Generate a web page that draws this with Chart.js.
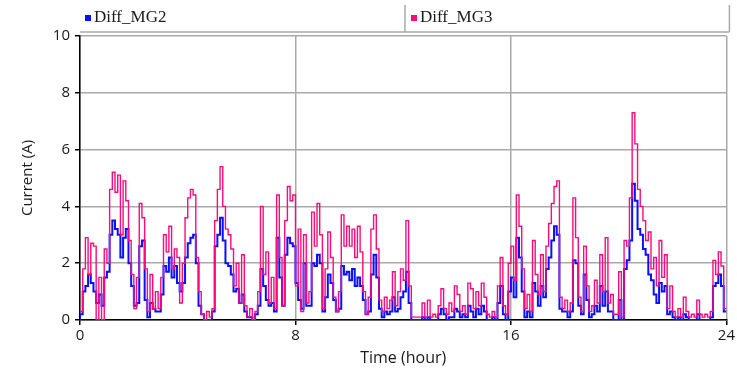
<!DOCTYPE html>
<html>
<head>
<meta charset="utf-8">
<script src="https://cdn.jsdelivr.net/npm/chart.js@4.4.1/dist/chart.umd.min.js"></script>
<style>
  html, body { margin: 0; padding: 0; background: #fff; }
  #chart { display: block; }
</style>
</head>
<body>
<canvas id="chart" width="737" height="376"></canvas>
<script>
'use strict';

/* ── Data: current samples every 0.1 h, from 0 to 24 h ───── */

const SERIES_NAMES = ['Diff_MG2', 'Diff_MG3'];

const DIFF_MG2 = [
  0.0, 0.2, 1.0, 1.2, 1.6, 1.3, 1.0, 0.6, 0.9, 0.5,
  1.5, 1.7, 3.0, 3.5, 3.2, 3.0, 2.2, 2.9, 3.2, 2.0,
  1.2, 0.5, 0.6, 2.6, 2.8, 0.7, 0.1, 0.6, 0.4, 0.3,
  0.3, 0.9, 1.9, 1.7, 2.2, 1.5, 1.9, 1.3, 1.0, 1.3,
  2.2, 2.7, 2.9, 3.0, 2.0, 0.5, 0.2, 0.0, 0.0, 0.0,
  0.3, 2.6, 3.0, 3.6, 2.8, 2.0, 1.9, 1.6, 1.0, 1.1,
  0.6, 0.9, 0.3, 0.1, 0.1, 0.0, 0.2, 0.5, 1.8, 1.2,
  0.7, 0.5, 0.6, 0.3, 2.9, 1.5, 0.5, 2.3, 2.9, 2.7,
  2.6, 1.3, 0.7, 0.4, 2.0, 0.5, 0.5, 2.0, 1.9, 2.3,
  2.0, 0.3, 0.8, 1.6, 1.3, 0.7, 0.3, 0.4, 1.9, 1.6,
  1.7, 1.4, 1.8, 1.2, 1.5, 1.2, 0.7, 0.2, 0.3, 1.6,
  2.3, 1.5, 0.4, 0.1, 0.3, 0.2, 0.3, 0.8, 0.3, 0.4,
  0.8, 1.0, 1.7, 0.6, 0.0, 0.0, 0.0, 0.0, 0.1, 0.0,
  0.1, 0.0, 0.0, 0.0, 0.2, 0.4, 0.2, 0.0, 0.1, 0.1,
  0.4, 0.3, 0.1, 0.2, 0.1, 0.5, 0.3, 0.1, 0.4, 0.2,
  0.5, 0.3, 0.0, 0.0, 0.1, 0.0, 0.6, 1.2, 0.2, 0.0,
  1.0, 1.5, 0.8, 2.9, 2.2, 1.0, 0.1, 0.3, 0.1, 1.3,
  1.0, 0.5, 1.2, 0.8, 1.8, 2.2, 2.8, 3.3, 3.0, 0.4,
  0.3, 0.3, 0.1, 0.3, 2.1, 2.0, 0.5, 0.2, 1.6, 0.7,
  0.1, 0.2, 0.5, 0.3, 1.2, 0.5, 1.0, 0.3, 0.3, 0.0,
  0.0, 0.7, 0.0, 1.8, 2.1, 2.8, 4.8, 4.2, 3.2, 3.0,
  2.5, 2.3, 1.6, 1.4, 0.9, 0.6, 1.3, 1.0, 1.2, 0.2,
  0.3, 0.1, 0.0, 0.1, 0.0, 0.2, 0.1, 0.0, 0.0, 0.0,
  0.2, 0.0, 0.0, 0.0, 0.0, 0.1, 1.2, 1.3, 1.6, 1.2,
  0.3,
];

const DIFF_MG3 = [
  0.3, 0.3, 1.8, 2.9, 1.6, 2.7, 2.6, 0.0, 1.5, 0.0,
  2.5, 2.0, 4.6, 5.2, 4.5, 5.1, 3.0, 4.9, 4.2, 2.8,
  1.6, 0.4, 1.5, 4.1, 3.6, 1.8, 0.3, 1.6, 0.4, 1.0,
  0.4, 1.5, 3.0, 2.4, 3.3, 1.8, 2.5, 2.2, 0.6, 2.0,
  3.6, 4.3, 4.6, 4.4, 2.2, 1.0, 0.2, 0.0, 0.3, 0.1,
  0.4, 3.5, 4.6, 5.4, 4.0, 3.2, 3.0, 2.5, 1.2, 2.0,
  0.6, 2.3, 0.5, 0.1, 0.4, 0.0, 0.3, 1.0, 4.0, 1.6,
  2.4, 0.6, 1.5, 0.4, 4.4, 2.2, 0.5, 3.5, 4.7, 4.2,
  4.4, 1.2, 3.2, 0.3, 3.0, 0.6, 1.0, 3.8, 2.6, 4.1,
  3.0, 0.4, 1.8, 3.1, 2.2, 0.8, 0.3, 1.0, 3.7, 2.6,
  3.3, 2.6, 3.2, 2.2, 3.3, 2.4, 1.0, 0.2, 0.8, 3.2,
  3.7, 2.5, 0.7, 0.3, 0.8, 0.4, 0.7, 1.7, 0.5, 1.0,
  1.8, 1.4, 3.5, 1.2, 0.1, 0.1, 0.1, 0.1, 0.6, 0.1,
  0.7, 0.1, 0.2, 0.1, 0.5, 1.1, 0.4, 0.2, 0.6, 0.3,
  1.2, 0.9, 0.3, 0.5, 0.2, 1.3, 1.1, 0.4, 1.0, 0.5,
  1.3, 0.8, 0.2, 0.1, 0.3, 0.1, 1.2, 2.2, 0.5, 0.2,
  2.0, 2.6, 1.4, 4.4, 3.3, 1.8, 0.4, 0.9, 0.3, 2.8,
  1.6, 0.9, 2.3, 1.0, 2.6, 3.4, 4.1, 4.7, 4.9, 0.8,
  0.4, 0.7, 0.3, 0.6, 4.3, 2.9, 0.8, 0.3, 2.6, 1.2,
  0.3, 0.5, 1.4, 0.6, 2.3, 1.0, 2.9, 0.6, 0.9, 0.2,
  0.2, 1.7, 0.1, 2.8, 2.6, 4.3, 7.3, 6.2, 4.6, 4.0,
  3.5, 2.8, 3.1, 1.8, 2.2, 1.2, 2.8, 1.5, 2.3, 0.4,
  1.2, 0.3, 0.1, 0.4, 0.1, 0.8, 0.3, 0.1, 0.2, 0.1,
  0.7, 0.2, 0.1, 0.2, 0.1, 0.3, 2.1, 1.6, 2.4, 1.9,
  0.4,
];

const SAMPLE_STEP_H = 0.1;
const X_TICKS = [0, 8, 16, 24];
const Y_TICKS = [0, 2, 4, 6, 8, 10];

/* ── Styling ─────────────────────────────────────────────── */

const COLORS = {
  mg2: '#0a10ff',
  mg3: '#ff0a7c',
  grid: '#a9a9a9',
  axis: '#000',
  text: '#1a1a1a',
};

const toPoints = vals => vals.map((v, i) => ({ x: +(i * SAMPLE_STEP_H).toFixed(1), y: v }));

/* ── Legend strip above the plot (boxed, serif font) ─────── */

const boxedLegend = {
  id: 'boxedLegend',
  afterDraw(chart) {
    const { ctx, chartArea } = chart;
    const left = chartArea.left;
    const right = chartArea.right + 3;
    const mid = 405;
    const lineY = 32;
    ctx.save();
    ctx.strokeStyle = COLORS.grid;
    ctx.lineWidth = 1.5;
    ctx.beginPath();
    ctx.moveTo(left, lineY);
    ctx.lineTo(right, lineY);
    ctx.moveTo(mid, 5);
    ctx.lineTo(mid, lineY);
    ctx.moveTo(right, 5);
    ctx.lineTo(right, lineY);
    ctx.stroke();

    ctx.font = '17px "Liberation Serif", "Times New Roman", serif';
    ctx.textBaseline = 'middle';
    ctx.fillStyle = COLORS.mg2;
    ctx.fillRect(85, 15, 6, 6);
    ctx.fillStyle = COLORS.mg3;
    ctx.fillRect(411, 15, 6, 6);
    ctx.fillStyle = COLORS.text;
    ctx.fillText(SERIES_NAMES[0], 94, 18);
    ctx.fillText(SERIES_NAMES[1], 420, 18);
    ctx.restore();
  },
};

/* ── Chart ───────────────────────────────────────────────── */

new Chart(document.getElementById('chart'), {
  type: 'line',
  data: {
    datasets: [
      {
        label: SERIES_NAMES[1],
        data: toPoints(DIFF_MG3),
        borderColor: COLORS.mg3,
        borderWidth: 1.4,
        stepped: 'after',
        pointRadius: 0,
        order: 0,
      },
      {
        label: SERIES_NAMES[0],
        data: toPoints(DIFF_MG2),
        borderColor: COLORS.mg2,
        borderWidth: 2,
        stepped: 'after',
        pointRadius: 0,
        order: 1,
      },
    ],
  },
  options: {
    responsive: false,
    animation: false,
    layout: { padding: { top: 36, right: 4, left: 0, bottom: 0 } },
    plugins: {
      legend: { display: false },
      tooltip: { enabled: false },
    },
    scales: {
      x: {
        type: 'linear',
        min: 0,
        max: 24,
        afterFit: s => { s.height = 56; },
        afterBuildTicks: s => { s.ticks = X_TICKS.map(v => ({ value: v })); },
        ticks: {
          color: COLORS.text,
          font: { family: '"Open Sans", sans-serif', size: 15 },
          padding: 2,
          maxRotation: 0,
        },
        grid: {
          color: COLORS.grid,
          lineWidth: 1.5,
          tickColor: COLORS.axis,
          tickLength: 5,
        },
        border: { color: COLORS.axis, width: 1.5 },
        title: {
          display: true,
          text: 'Time (hour)',
          color: COLORS.text,
          font: { family: '"Open Sans", sans-serif', size: 16 },
          padding: { top: 0, bottom: 8 },
        },
      },
      y: {
        min: 0,
        max: 10,
        afterFit: s => { s.width = 80; },
        afterBuildTicks: s => { s.ticks = Y_TICKS.map(v => ({ value: v })); },
        ticks: {
          color: COLORS.text,
          font: { family: '"Open Sans", sans-serif', size: 15 },
          padding: 5,
        },
        grid: {
          color: COLORS.grid,
          lineWidth: 1.5,
          tickColor: COLORS.axis,
          tickLength: 5,
        },
        border: { color: COLORS.axis, width: 1.5 },
        title: {
          display: true,
          text: 'Current (A)',
          color: COLORS.text,
          font: { family: '"Open Sans", sans-serif', size: 15 },
          padding: { top: 19, bottom: 0 },
        },
      },
    },
  },
  plugins: [boxedLegend],
});
</script>
</body>
</html>
